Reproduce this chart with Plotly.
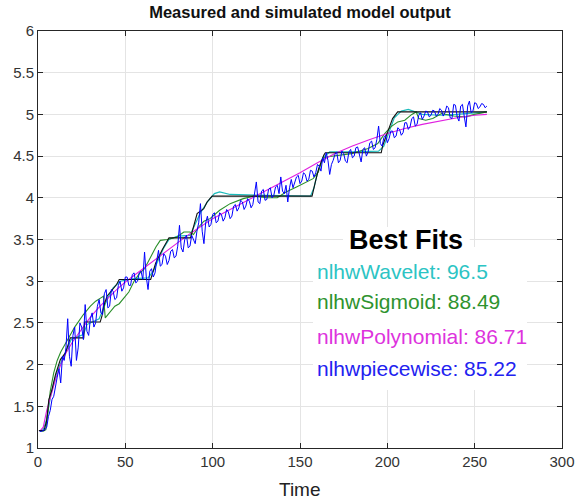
import plotly.graph_objects as go

# ---------------- data ----------------
meas_t = [0.5, 3.5, 5, 6.2, 8, 10, 12.8, 15.7, 17.6, 18.5, 26.2, 26.6, 35.6, 36.6, 37.6, 39.5, 45, 46.5,
          64.5, 65.5, 67.4, 71.2, 75, 87.3, 89.2, 91.1, 94.9, 96.8, 99.7,
          156.9, 158.8, 160.7, 163.6, 164.5, 196.5, 197.4, 200.2, 203, 205.9, 257]
meas_v = [1.21, 1.21, 1.33, 1.58, 1.7, 1.88, 2.06, 2.14, 2.26, 2.32, 2.32, 2.51, 2.51, 2.58, 2.70, 2.82, 2.96, 3.02,
          3.02, 3.10, 3.22, 3.38, 3.52, 3.52, 3.67, 3.81, 3.87, 3.95, 4.02,
          4.02, 4.19, 4.35, 4.51, 4.54, 4.54, 4.63, 4.79, 4.95, 5.03, 5.03]

wav_t = [1, 3, 5, 7, 9, 11, 13, 15, 17, 19, 22, 26, 28, 32, 35, 37, 40, 43, 47, 55, 63, 66, 69, 72, 75, 80, 87,
         90, 93, 97, 101, 104, 110, 130, 150, 156, 158, 160, 163, 167, 180, 195, 198, 201, 204, 208, 212, 220,
         230, 240, 250, 257]
wav_v = [1.2, 1.22, 1.35, 1.6, 1.78, 1.92, 2.02, 2.12, 2.22, 2.3, 2.33, 2.36, 2.48, 2.52, 2.55, 2.65, 2.8, 2.92,
         3.0, 3.03, 3.04, 3.12, 3.26, 3.4, 3.5, 3.54, 3.55, 3.68, 3.82, 3.95, 4.05, 4.07, 4.04, 4.03, 4.02, 4.02,
         4.12, 4.3, 4.48, 4.55, 4.55, 4.56, 4.62, 4.8, 4.96, 5.04, 5.06, 5.0, 4.99, 5.0, 5.02, 5.03]

sig_t = [1, 3, 4.5, 5.5, 7, 9, 11, 13, 15, 17.5, 21, 24, 26, 30, 33, 36, 37.5, 38.5, 41, 44, 46.5, 50, 52, 55,
         58, 61, 63.5, 65.5, 67.5, 70, 74, 79.5, 83.5, 87, 89, 92, 95, 98.5, 104, 110, 117.5, 123.5, 131, 137,
         142, 148, 154, 157.5, 160.5, 163, 165, 172, 179.5, 189, 194.5, 198.5, 202, 206, 210, 214, 216.5, 218,
         222, 226, 231, 238, 245, 250, 257]
sig_v = [1.2, 1.2, 1.22, 1.4, 1.68, 1.9, 2.05, 2.15, 2.22, 2.32, 2.45, 2.55, 2.6, 2.7, 2.76, 2.8, 2.82, 2.56,
         2.62, 2.7, 2.73, 2.82, 2.87, 3.0, 3.09, 3.15, 3.25, 3.33, 3.41, 3.49, 3.5, 3.53, 3.59, 3.59, 3.56, 3.65,
         3.72, 3.75, 3.85, 3.93, 3.99, 4.02, 4.0, 4.0, 4.07, 4.13, 4.19, 4.23, 4.31, 4.47, 4.49, 4.51, 4.53, 4.59,
         4.65, 4.77, 4.85, 4.91, 4.93, 5.0, 5.03, 4.95, 4.93, 4.95, 5.01, 4.98, 4.97, 5.0, 5.03]

poly_t = [1, 3, 5, 8, 10, 13, 16, 20, 25, 30, 35, 40, 45, 50, 55, 60, 65, 70, 75, 80, 85, 90, 95, 100, 110, 120,
          130, 140, 150, 160, 170, 180, 190, 200, 210, 220, 230, 240, 250, 257]
poly_v = [1.2, 1.25, 1.45, 1.68, 1.82, 2.0, 2.14, 2.28, 2.43, 2.57, 2.69, 2.8, 2.9, 2.99, 3.07, 3.15, 3.23, 3.31,
          3.39, 3.47, 3.54, 3.61, 3.68, 3.75, 3.86, 3.97, 4.07, 4.18, 4.3, 4.42, 4.53, 4.62, 4.7, 4.77, 4.83, 4.88,
          4.92, 4.96, 4.99, 5.0]

# piecewise-linear model output, one value per sample (t = 1 .. 257)
pw_t = list(range(1, 258))
pw_v = [1.20, 1.20, 1.21, 1.22, 1.25, 1.38, 1.45, 1.58, 1.62, 1.75,
        1.85, 1.95, 1.78, 2.10, 2.05, 2.20, 2.55, 2.10, 1.98, 2.35,
        2.45, 2.05, 2.20, 2.50, 2.45, 2.30, 2.72, 2.40, 2.35, 2.55,
        2.62, 2.45, 2.50, 2.70, 2.78, 2.62, 2.60, 2.85, 2.90, 2.68,
        2.70, 2.90, 2.88, 2.78, 2.80, 2.95, 3.00, 2.88, 2.92, 3.05,
        3.05, 2.95, 2.95, 3.08, 3.10, 2.98, 3.00, 3.10, 3.12, 3.02,
        3.35, 3.05, 2.90, 3.12, 3.15, 3.05, 3.10, 3.25, 3.37, 3.18,
        3.20, 3.33, 3.30, 3.20, 3.25, 3.36, 3.38, 3.28, 3.30, 3.42,
        3.67, 3.40, 3.35, 3.50, 3.55, 3.40, 3.42, 3.55, 3.50, 3.45,
        3.60, 3.70, 3.93, 3.60, 3.45, 3.70, 3.78, 3.65, 3.68, 3.80,
        3.82, 3.70, 3.72, 3.82, 3.80, 3.72, 3.76, 3.86, 3.83, 3.75,
        3.78, 3.90, 3.92, 3.84, 3.88, 3.97, 3.95, 3.86, 3.90, 3.99,
        3.96, 3.88, 3.92, 4.05, 4.19, 3.95, 3.93, 4.08, 4.10, 3.97,
        3.98, 4.10, 4.12, 4.00, 4.03, 4.13, 4.15, 4.05, 4.25, 4.08,
        4.05, 4.15, 3.95, 4.12, 4.22, 4.12, 4.18, 4.25, 4.27, 4.17,
        4.20, 4.30, 4.28, 4.20, 4.22, 4.33, 4.32, 4.25, 4.30, 4.40,
        4.38, 4.32, 4.48, 4.42, 4.54, 4.45, 4.28, 4.40, 4.45, 4.52,
        4.55, 4.42, 4.45, 4.56, 4.53, 4.44, 4.42, 4.55, 4.58, 4.48,
        4.50, 4.60, 4.61, 4.50, 4.43, 4.58, 4.60, 4.50, 4.55, 4.66,
        4.68, 4.58, 4.60, 4.70, 4.86, 4.65, 4.62, 4.72, 4.75, 4.66,
        4.71, 4.80, 4.80, 4.72, 4.74, 4.84, 4.82, 4.75, 4.78, 4.90,
        4.90, 4.82, 4.85, 4.95, 4.97, 4.86, 4.88, 4.99, 5.02, 4.94,
        4.98, 5.04, 5.03, 4.97, 4.99, 5.05, 5.04, 4.98, 5.00, 5.07,
        5.05, 4.98, 5.02, 5.10, 5.08, 4.96, 4.95, 5.12, 5.11, 4.97,
        4.92, 5.10, 5.12, 4.98, 4.85, 5.10, 5.16, 5.02, 5.04, 5.14,
        5.13, 5.07, 5.09, 5.13, 5.12, 5.08, 5.10]

fit_names = ["nlhwWavelet", "nlhwSigmoid", "nlhwPolynomial", "nlhwpiecewise"]
fit_values = ["96.5", "88.49", "86.71", "85.22"]

x_ticks = [0, 50, 100, 150, 200, 250, 300]
y_ticks = [1, 1.5, 2, 2.5, 3, 3.5, 4, 4.5, 5, 5.5, 6]

# ---------------- styles ----------------
C_CYAN = "#1cbcbc"
C_GREEN = "#2a8f2a"
C_MAG = "#e020e0"
C_BLUE = "#0000ff"
C_BLACK = "#111111"
FONT = "Liberation Sans, Arial, sans-serif"

fig = go.Figure()
fig.add_trace(go.Scatter(x=wav_t, y=wav_v, mode="lines", line=dict(color=C_CYAN, width=1.2)))
fig.add_trace(go.Scatter(x=sig_t, y=sig_v, mode="lines", line=dict(color=C_GREEN, width=1.1)))
fig.add_trace(go.Scatter(x=poly_t, y=poly_v, mode="lines", line=dict(color=C_MAG, width=1.1)))
fig.add_trace(go.Scatter(x=meas_t, y=meas_v, mode="lines", line=dict(color=C_BLACK, width=1.1)))
fig.add_trace(go.Scatter(x=pw_t, y=pw_v, mode="lines", line=dict(color=C_BLUE, width=1.0)))

axis_common = dict(
    showline=True, linecolor="#262626", linewidth=1, mirror="ticks",
    ticks="inside", ticklen=5, tickcolor="#262626", tickwidth=1,
    showgrid=True, gridcolor="#e4e4e4", gridwidth=1, zeroline=False,
    ticklabeloverflow="allow", automargin=False,
    tickfont=dict(family=FONT, size=15, color="#333333"),
)

fig.update_layout(
    width=580, height=501,
    margin=dict(l=38, r=18, t=31, b=53),
    paper_bgcolor="white", plot_bgcolor="white",
    showlegend=False,
    title=dict(text="<b>Measured and simulated model output</b>",
               font=dict(family=FONT, size=16.5, color="#111111"),
               x=0.5, xref="paper", xanchor="center",
               y=1 - 12 / 501, yref="container", yanchor="middle"),
    xaxis=dict(range=[0, 300], tickvals=x_ticks, **axis_common),
    yaxis=dict(range=[1, 6], tickvals=y_ticks, **axis_common),
)

# x-axis title
fig.add_annotation(x=0.5, y=-0.1007, xref="paper", yref="paper", text="Time", showarrow=False,
                   xanchor="center", yanchor="middle",
                   font=dict(family=FONT, size=19, color="#222222"))

# white boxes behind the annotation text (paper coordinates)
fig.add_shape(type="rect", xref="paper", yref="paper", x0=0.582, x1=0.824, y0=0.482, y1=0.530,
              fillcolor="white", line=dict(width=0), layer="above")
fig.add_shape(type="rect", xref="paper", yref="paper", x0=0.5248, x1=0.9332, y0=0.139, y1=0.482,
              fillcolor="white", line=dict(width=0), layer="above")

fig.add_annotation(x=0.702, y=0.4988, xref="paper", yref="paper", text="<b>Best Fits</b>", showarrow=False,
                   xanchor="center", yanchor="middle",
                   font=dict(family=FONT, size=27, color="#000000"))

colors = ["#2cc4c4", "#2e932e", "#dd33dd", "#2222f0"]
label_y = [0.4228, 0.3508, 0.2669, 0.1911]
for name, val, col, yy in zip(fit_names, fit_values, colors, label_y):
    fig.add_annotation(x=0.5286, y=yy, xref="paper", yref="paper", text=f"{name}: {val}", showarrow=False,
                       xanchor="left", yanchor="middle",
                       font=dict(family=FONT, size=21, color=col))

fig.write_html("out.html")
